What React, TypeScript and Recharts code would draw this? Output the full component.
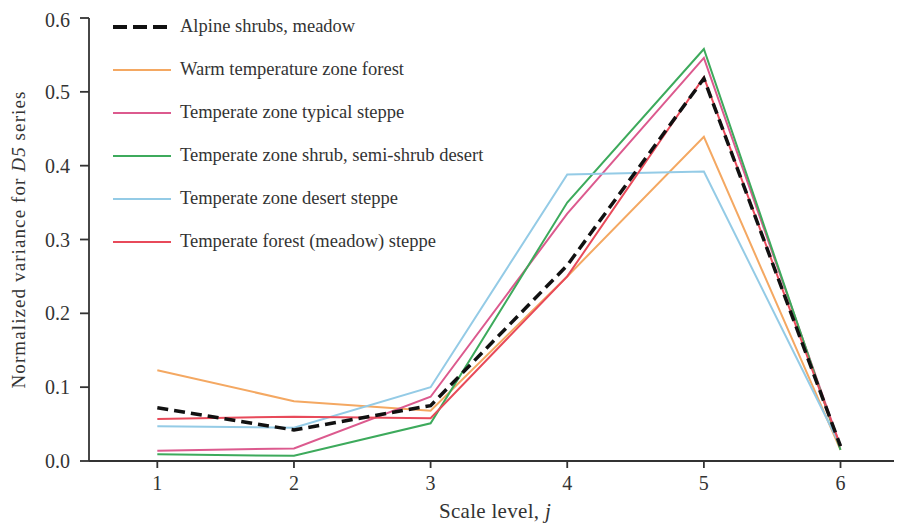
import React from "react";
import { LineChart, Line, XAxis, YAxis } from "recharts";

const scaleLevels = [1, 2, 3, 4, 5, 6];
const alpineShrubsMeadow = [0.072, 0.042, 0.075, 0.265, 0.518, 0.02];
const warmTemperateForest = [0.123, 0.081, 0.068, 0.25, 0.439, 0.015];
const typicalSteppe = [0.014, 0.017, 0.087, 0.335, 0.546, 0.02];
const shrubDesert = [0.009, 0.007, 0.051, 0.35, 0.558, 0.015];
const desertSteppe = [0.047, 0.045, 0.1, 0.388, 0.392, 0.02];
const forestMeadowSteppe = [0.057, 0.06, 0.058, 0.25, 0.52, 0.02];
const yTicks = [0, 0.1, 0.2, 0.3, 0.4, 0.5, 0.6];

const series = [
  { key: "alpine", name: "Alpine shrubs, meadow", values: alpineShrubsMeadow, color: "#111111", width: 3.5 },
  { key: "warm", name: "Warm temperature zone forest", values: warmTemperateForest, color: "#f4a862", width: 2 },
  { key: "typical", name: "Temperate zone typical steppe", values: typicalSteppe, color: "#dc5a8e", width: 2 },
  { key: "shrub", name: "Temperate zone shrub, semi-shrub desert", values: shrubDesert, color: "#3daa5c", width: 2 },
  { key: "desert", name: "Temperate zone desert steppe", values: desertSteppe, color: "#94cbe6", width: 2 },
  { key: "forest", name: "Temperate forest (meadow) steppe", values: forestMeadowSteppe, color: "#e84a5a", width: 2 },
];

const data = scaleLevels.map((j, i) => {
  const row: Record<string, number> = { j };
  series.forEach((s) => {
    row[s.key] = s.values[i];
  });
  return row;
});

const FONT = "'Liberation Serif', 'Times New Roman', serif";

const LegendBox = () => (
  <div style={{ position: "absolute", top: -3, left: 105, fontFamily: FONT, fontSize: 18.5, color: "#333" }}>
    {series.map((s) => (
      <div key={s.key} style={{ display: "flex", alignItems: "center", height: 43 }}>
        <svg width={60} height={10} style={{ marginRight: 7 }}>
          <line x1={0} y1={5} x2={58} y2={5} stroke={s.color} strokeWidth={s.key === "alpine" ? 4 : 2} strokeDasharray={s.key === "alpine" ? "14 6" : undefined} />
        </svg>
        <span style={{ whiteSpace: "nowrap" }}>{s.name}</span>
      </div>
    ))}
  </div>
);

const YLabel = (props: any) => {
  const vb = props.viewBox || {};
  const cy = vb.y + vb.height / 2;
  const x = 13;
  return (
    <text x={x} y={cy} transform={`rotate(-90, ${x}, ${cy})`} textAnchor="middle" dominantBaseline="middle" fontFamily={FONT} fontSize={19} letterSpacing={1.1} fill="#333">
      Normalized variance for <tspan fontStyle="italic">D5</tspan> series
    </text>
  );
};

const XLabel = () => (
  <text x={487} y={505} textAnchor="middle" dominantBaseline="middle" fontFamily={FONT} fontSize={21} letterSpacing={0.3} fill="#333">
    Scale level, <tspan fontStyle="italic">j</tspan>
  </text>
);

export default function App() {
  return (
    <div style={{ position: "relative", width: 894, height: 521 }}>
      <LineChart width={894} height={521} data={data} margin={{ top: 10, right: 0, left: 0, bottom: 0 }}>
        <XAxis
          dataKey="j"
          type="number"
          domain={[0.5, 6.45]}
          ticks={scaleLevels}
          allowDataOverflow
          height={68}
          stroke="#333"
          strokeWidth={1.8}
          tickSize={7}
          tick={{ fontFamily: FONT, fontSize: 20, fill: "#333", dy: 6 }}
          label={<XLabel />}
        />
        <YAxis
          type="number"
          domain={[0, 0.6]}
          ticks={yTicks}
          width={81}
          stroke="#333"
          strokeWidth={1.8}
          tickSize={9}
          tickFormatter={(v: number) => v.toFixed(1)}
          tick={{ fontFamily: FONT, fontSize: 20, fill: "#333", dx: -8 }}
          label={<YLabel />}
        />
        {series.slice(1).map((s) => (
          <Line key={s.key} dataKey={s.key} name={s.name} type="linear" stroke={s.color} strokeWidth={s.width} dot={false} isAnimationActive={false} />
        ))}
        <Line dataKey="alpine" name={series[0].name} type="linear" stroke={series[0].color} strokeWidth={3.5} strokeDasharray="11 6" dot={false} isAnimationActive={false} />
      </LineChart>
      <LegendBox />
    </div>
  );
}
